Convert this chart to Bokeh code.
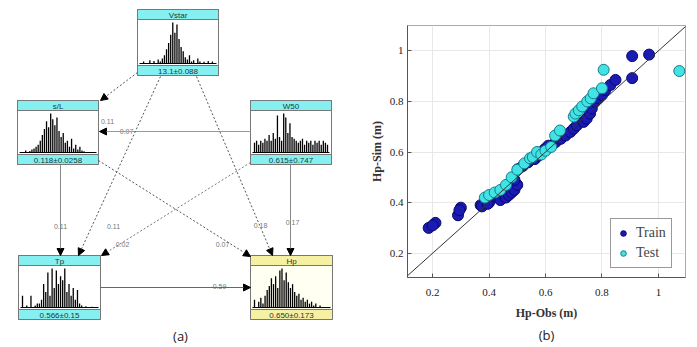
from bokeh.plotting import figure
from bokeh.models import Range1d, Arrow, NormalHead, Legend, LegendItem, FixedTicker, Title, Slope
from bokeh.layouts import row
from bokeh.embed import file_html
from bokeh.resources import INLINE
from bokeh.core.properties import value

# ---------------- Panel (a) data ----------------
node_names = ["Vstar", "s/L", "W50", "Tp", "Hp"]
node_stats = ["13.1±0.088", "0.118±0.0258", "0.615±0.747", "0.566±0.15", "0.650±0.173"]
hist_vstar = [0, 0.05, 0, 0, 0.08, 0, 0.06, 0, 0.1, 0.05, 0.12, 0.2, 0.35, 0.5, 0.7, 1.0, 0.75, 0.95,
              0.6, 0.4, 0.3, 0.15, 0.1, 0.2, 0.05, 0.08, 0, 0.12, 0.05, 0, 0.04, 0, 0.06, 0, 0.05, 0]
hist_sl = [0, 0, 0.05, 0, 0.04, 0.08, 0.1, 0.15, 0.2, 0.3, 0.45, 0.6, 0.8, 0.65, 1.0, 0.85, 0.7, 0.9,
           0.55, 0.4, 0.5, 0.25, 0.3, 0.15, 0.35, 0.1, 0.2, 0.08, 0.15, 0.05, 0.03, 0, 0, 0, 0, 0]
hist_w50 = [0.25, 0.3, 0.2, 0.3, 0.25, 0.35, 0.3, 0.45, 0.3, 0.5, 0.35, 0.95, 0.4, 0.3, 1.0, 0.9, 0.5, 0.75,
            0.4, 0.35, 0.3, 0.25, 0.3, 0.35, 0.2, 0.3, 0.25, 0.3, 0.2, 0.3, 0.25, 0.3, 0.2, 0.3, 0.25, 0.2]
hist_tp = [0.3, 0, 0.05, 0, 0.3, 0, 0.05, 0.1, 0.1, 0.2, 0.6, 0.4, 0.9, 0.3, 1.0, 0.5, 0.95, 0.6,
           0.8, 0.7, 1.0, 0.4, 0.6, 0.3, 0.5, 0.2, 0.45, 0.1, 0.05, 0, 0.03, 0, 0, 0.02, 0, 0]
hist_hp = [0.2, 0, 0.15, 0.25, 0.1, 0.3, 0.45, 0.55, 0.75, 0.6, 0.8, 0.5, 0.95, 1.0, 0.7, 0.9, 0.65, 0.5,
           0.6, 0.4, 0.3, 0.35, 0.2, 0.25, 0.15, 0.2, 0.1, 0.15, 0.05, 0.1, 0, 0.05, 0, 0, 0, 0]
node_hists = [hist_vstar, hist_sl, hist_w50, hist_tp, hist_hp]
edge_from = ["Vstar", "W50", "s/L", "Vstar", "W50", "Vstar", "W50", "s/L", "Tp"]
edge_to = ["s/L", "s/L", "Tp", "Tp", "Tp", "Hp", "Hp", "Hp", "Hp"]
edge_weights = ["0.11", "0.07", "0.11", "0.11", "0.02", "0.18", "0.17", "0.07", "0.59"]

# ---------------- Panel (b) data ----------------
train_obs = [0.186, 0.21, 0.20, 0.29, 0.30, 0.295, 0.37, 0.375, 0.40, 0.395,
             0.43, 0.44, 0.45, 0.46, 0.47, 0.48, 0.49, 0.50, 0.49, 0.502,
             0.52, 0.538, 0.562, 0.574, 0.586, 0.598, 0.61, 0.636, 0.654, 0.671,
             0.688, 0.70, 0.711, 0.735, 0.746, 0.758, 0.764, 0.776, 0.788, 0.80,
             0.812, 0.83, 0.848, 0.907, 0.907, 0.967]
train_sim = [0.30, 0.32, 0.31, 0.35, 0.38, 0.37, 0.39, 0.385, 0.40, 0.395,
             0.42, 0.41, 0.43, 0.42, 0.43, 0.44, 0.45, 0.47, 0.49, 0.532,
             0.545, 0.559, 0.572, 0.585, 0.599, 0.612, 0.625, 0.639, 0.652, 0.665,
             0.679, 0.692, 0.705, 0.719, 0.732, 0.752, 0.772, 0.799, 0.812, 0.825,
             0.845, 0.865, 0.885, 0.892, 0.979, 0.985]
test_obs = [0.385, 0.40, 0.42, 0.44, 0.46, 0.48, 0.50, 0.525, 0.545, 0.555,
            0.57, 0.585, 0.60, 0.62, 0.634, 0.651, 0.70, 0.706, 0.718, 0.73,
            0.748, 0.76, 0.77, 0.80, 0.806, 1.074]
test_sim = [0.42, 0.43, 0.44, 0.45, 0.47, 0.50, 0.53, 0.555, 0.575, 0.58,
            0.60, 0.59, 0.605, 0.62, 0.665, 0.685, 0.74, 0.752, 0.765, 0.78,
            0.80, 0.812, 0.832, 0.852, 0.925, 0.92]
axis_ticks = [0.2, 0.4, 0.6, 0.8, 1.0]
tick_labels = ["0.2", "0.4", "0.6", "0.8", "1"]

# ---------------- Layout (page-pixel coordinates for panel a) ----------------
node_box = {"Vstar": (137, 218, 9, 75), "s/L": (17, 98, 100, 164), "W50": (250, 331, 100, 164),
            "Tp": (18, 100, 255, 319), "Hp": (250, 332, 255, 319)}
edge_geom = [((137, 72), (100, 100)), ((250, 131), (99, 131)), ((60, 164), (60, 255)),
             ((160, 76), (78, 255)), ((250, 162), (101, 255)), ((196, 76), (272, 255)),
             ((290, 164), (290, 255)), ((98, 160), (250, 256)), ((100, 287), (250, 287))]
edge_dash = ["2 2", "solid", "solid", "2 2", "2 2", "2 2", "solid", "2 2", "solid"]
edge_color = ["#555555", "#9a9a9a", "#888888", "#555555", "#777777", "#555555", "#888888", "#555555", "#666666"]
label_pos = [(107, 121), (126, 131), (60, 226), (113, 226), (122, 244),
             (260, 225), (292, 222), (222, 244), (219, 286)]
BAND = 10
W_A, W_B, H = 366, 330, 346


def no_align(fig):
    if "frame_align" in fig.properties():
        fig.frame_align = False


pa = figure(width=W_A, height=H, x_range=Range1d(0, W_A), y_range=Range1d(H, 0),
            output_backend="svg", toolbar_location=None,
            min_border=0, min_border_left=0, min_border_right=0, min_border_top=0, min_border_bottom=0)
pa.axis.visible = False
pa.grid.visible = False
pa.outline_line_color = None
no_align(pa)

# edges
for (s, e), dash, col in zip(edge_geom, edge_dash, edge_color):
    pa.add_layout(Arrow(end=NormalHead(size=7, fill_color="black", line_color="black"),
                        x_start=s[0], y_start=s[1], x_end=e[0], y_end=e[1],
                        line_color=col, line_width=1, line_dash=dash))
pa.text(x=[p[0] for p in label_pos], y=[p[1] for p in label_pos], text=edge_weights,
        text_font=value("Liberation Sans"), text_font_size="7px", text_color="#777777",
        text_align="center", text_baseline="middle")

# nodes
for name, stat, hist in zip(node_names, node_stats, node_hists):
    l, r, t, b = node_box[name]
    band_col = "#f6f0a2" if name == "Hp" else "#86f0f0"
    body_col = "#fffff2" if name == "Hp" else "white"
    pa.quad(left=[l], right=[r], top=[t], bottom=[b], fill_color=body_col, line_color="#777777", line_width=1)
    pa.quad(left=[l, l], right=[r, r], top=[t, b - BAND], bottom=[t + BAND, b],
            fill_color=band_col, line_color="#777777", line_width=1)
    base = b - BAND - 2
    hmax = base - (t + BAND + 3)
    n = len(hist)
    xs = [l + 4 + i * (r - l - 8) / (n - 1) for i in range(n)]
    pa.vbar(x=xs, width=1.3, bottom=base, top=[base - h * hmax for h in hist],
            fill_color="black", line_color=None)
    pa.segment(x0=[l + 2], y0=[base], x1=[r - 2], y1=[base], line_color="black", line_width=1)
    pa.text(x=[(l + r) / 2, (l + r) / 2], y=[t + BAND / 2 + 0.5, b - BAND / 2 + 0.5], text=[name, stat],
            text_font=value("Liberation Sans"), text_font_size="8px", text_color="#1a3a3a",
            text_align="center", text_baseline="middle")

pa.text(x=[180], y=[335], text=["(a)"], text_font=value("Open Sans"), text_font_size="13px",
        text_color="#222222", text_align="center", text_baseline="middle")

# ---------------- Panel (b) ----------------
pb = figure(width=W_B, height=H, x_range=Range1d(0.111, 1.096), y_range=Range1d(0.104, 1.1),
            output_backend="svg", toolbar_location=None,
            min_border_left=41, min_border_right=11, min_border_top=25, min_border_bottom=H - 277)
no_align(pb)
pb.outline_line_color = "#aaaaaa"
pb.add_layout(Slope(gradient=1, y_intercept=0, line_color="#333333", line_width=1))
r_train = pb.scatter(train_obs, train_sim, size=11, marker="circle",
                     fill_color="#1a1ab4", line_color="#0a0a6a", line_width=1)
r_test = pb.scatter(test_obs, test_sim, size=11, marker="circle",
                    fill_color="#40e4e4", line_color="#1a7a8a", line_width=1)

for ax in (pb.xaxis[0], pb.yaxis[0]):
    ax.ticker = FixedTicker(ticks=axis_ticks)
    ax.major_label_overrides = {t: s for t, s in zip(axis_ticks, tick_labels)}
    ax.major_label_text_font = "Liberation Serif"
    ax.major_label_text_font_size = "11px"
    ax.major_label_text_color = "#222222"
    ax.axis_label_text_font = "Liberation Serif"
    ax.axis_label_text_font_size = "12px"
    ax.axis_label_text_font_style = "bold"
    ax.axis_label_text_color = "#333333"
    ax.axis_line_color = "#555555"
    ax.major_tick_in = 4
    ax.major_tick_out = 0
    ax.major_tick_line_color = "#555555"
    ax.minor_tick_line_color = None
pb.xaxis.axis_label = "Hp-Obs (m)"
pb.yaxis.axis_label = "Hp-Sim (m)"
pb.xaxis.major_label_standoff = 11
pb.xaxis.axis_label_standoff = 7
pb.yaxis.major_label_standoff = 4
pb.yaxis.axis_label_standoff = 3
pb.grid.grid_line_color = "#e8e8e8"

legend = Legend(items=[LegendItem(label="Train", renderers=[r_train]),
                       LegendItem(label="Test", renderers=[r_test])],
                location=(203, 9), label_text_font="Liberation Serif", label_text_font_size="14px",
                glyph_height=18, glyph_width=14, label_height=18, spacing=2, padding=5, margin=0,
                border_line_color="#333333", background_fill_alpha=1.0, label_standoff=6)
pb.add_layout(legend)
pb.add_layout(Title(text="(b)", align="center", text_font="Open Sans", text_font_size="13px",
                    text_font_style="normal", text_color="#222222", standoff=3), "below")

layout = row(pa, pb)
open("out.html", "w").write(file_html(layout, INLINE))
